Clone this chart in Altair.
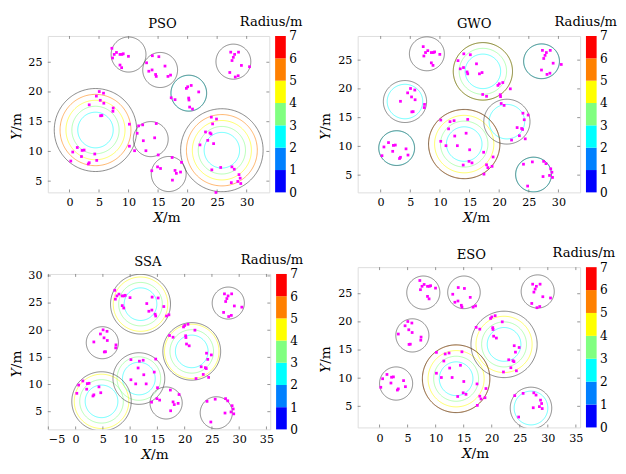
import altair as alt
import numpy as np
import pandas as pd

# ---------------- data ----------------
PX = [7.18, 7.57, 7.95, 8.55, 8.88, 9.10, 9.98, 8.55, 8.83, 7.29,
      13.05, 14.03, 15.13, 13.43, 13.98, 14.58, 14.69, 16.17, 16.67, 17.11,
      20.01, 20.61, 19.79, 21.88, 20.18, 20.23, 20.34, 20.83, 17.22, 17.87,
      27.30, 27.96, 28.62, 27.74, 27.52, 29.11, 30.48, 27.14, 28.07, 28.56,
      4.55, 5.04, 5.76, 5.21, 5.81, 3.34, 7.40, 7.35, 5.26, 5.48,
      1.32, 0.55, 2.14, 2.47, 2.03, 4.28, 0.22, 3.34, 3.18, 4.61,
      10.14, 11.46, 12.39, 11.70, 14.69, 12.50, 14.42, 10.14, 11.02, 12.94, 15.02,
      17.38, 13.93, 14.91, 15.41, 18.97, 17.87, 18.80, 18.09, 17.43,
      24.01, 24.89, 24.23, 23.03, 23.79, 23.96, 22.09, 23.41, 24.40,
      24.10, 25.60, 27.50, 27.90, 28.70, 28.90, 28.50, 29.00, 27.40, 24.80]
PY = [27.35, 26.32, 26.65, 26.32, 26.32, 26.43, 26.00, 24.53, 24.09, 25.72,
      24.91, 26.10, 25.94, 23.49, 23.71, 22.95, 22.62, 24.36, 22.62, 22.84,
      20.88, 21.10, 20.61, 20.01, 18.98, 18.65, 17.46, 17.13, 19.03, 18.71,
      26.70, 26.32, 26.70, 25.83, 25.29, 24.47, 24.25, 23.28, 22.52, 22.73,
      19.31, 20.07, 19.80, 18.60, 18.11, 17.84, 17.30, 16.75, 16.00, 16.04,
      10.66, 9.90, 10.17, 10.23, 9.14, 9.57, 8.38, 8.10, 7.89, 8.49,
      14.58, 13.05, 14.47, 14.30, 14.69, 11.80, 12.29, 10.88, 10.12, 10.12, 9.41,
      8.98, 6.75, 7.40, 7.13, 8.16, 6.80, 6.53, 6.31, 5.17,
      15.77, 15.45, 14.63, 13.27, 13.11, 12.94, 11.10, 11.86, 11.31,
      6.90, 7.30, 7.40, 7.00, 6.10, 5.50, 4.95, 4.60, 4.75, 3.10]

PANELS = ["PSO", "GWO", "SSA", "ESO"]

# circle centres and radii (m) per algorithm
CX = {"PSO": [10.0, 15.35, 20.2, 27.75, 4.4, 13.76, 16.8, 25.8],
      "GWO": [7.8, 17.25, 27.15, 4.1, 2.7, 14.1, 21.3, 25.8],
      "SSA": [11.9, 28.0, 4.9, 21.3, 11.6, 4.75, 16.6, 25.8],
      "ESO": [7.8, 15.05, 28.2, 5.85, 2.95, 13.65, 22.2, 27.0]}
CY = {"PSO": [26.3, 23.7, 19.8, 25.1, 13.6, 12.07, 6.2, 10.2],
      "GWO": [26.1, 23.05, 24.8, 17.8, 9.7, 10.4, 14.3, 5.1],
      "SSA": [24.8, 25.0, 17.7, 16.1, 11.1, 6.9, 6.6, 4.8],
      "ESO": [25.2, 25.25, 25.4, 17.6, 9.05, 9.9, 16.0, 4.7]}
CR = {"PSO": [2.95, 2.95, 3.03, 2.95, 6.98, 2.95, 2.95, 6.98],
      "GWO": [2.95, 5.0, 3.03, 3.65, 3.03, 6.03, 3.9, 3.03],
      "SSA": [5.5, 2.95, 2.95, 5.3, 4.75, 5.45, 2.95, 2.95],
      "ESO": [2.95, 2.9, 2.95, 2.95, 2.95, 6.02, 5.9, 3.7]}

XDOM = {"PSO": [-3.67, 33.83], "GWO": [-3.88, 33.66], "SSA": [-5.1, 35.7], "ESO": [-3.9, 35.76]}
YDOM = {"PSO": [3.11, 29.42], "GWO": [2.0, 29.2], "SSA": [1.74, 30.36], "ESO": [1.25, 29.72]}
XTICKS = {"PSO": [0, 5, 10, 15, 20, 25, 30], "GWO": [0, 5, 10, 15, 20, 25, 30],
          "SSA": [-5, 0, 5, 10, 15, 20, 25, 30, 35], "ESO": [0, 5, 10, 15, 20, 25, 30, 35]}
YTICKS = {"PSO": [5, 10, 15, 20, 25], "GWO": [5, 10, 15, 20, 25],
          "SSA": [5, 10, 15, 20, 25, 30], "ESO": [5, 10, 15, 20, 25]}

# colour bar levels (Radius/m) and their colours
CB_LEVELS = [0, 1, 2, 3, 4, 5, 6, 7]
JET = ["#0000ff", "#0080ff", "#00ffff", "#80ff80", "#ffff00", "#ff8000", "#ff0000"]

# ---------------- layout ----------------
SIZE = {"PSO": (228, 161), "GWO": (229, 161), "SSA": (229, 160), "ESO": (229, 165)}
TITLE_X = {"PSO": 118, "GWO": 120, "SSA": 103, "ESO": 117}
XLAB_X = {"PSO": 118.7, "GWO": 118.3, "SSA": 106.3, "ESO": 117.3}
RAD_X = {"PSO": 34, "GWO": 38, "SSA": 34, "ESO": 36}
FONT = "DejaVu Serif"
GRAY = "#444444"
ONE = pd.DataFrame({"a": [0]})


def ring_frames(name):
    t = np.linspace(0, 2 * np.pi, 181)
    col_rows, gray_rows = [], []
    for i, (cx, cy, r) in enumerate(zip(CX[name], CY[name], CR[name])):
        for k in range(3, int(np.floor(r)) + 1):
            for j, a in enumerate(t):
                col_rows.append({"key": f"{i}-{k}", "x": cx + k * np.cos(a),
                                 "y": cy + k * np.sin(a), "o": j, "c": JET[k - 1]})
        for j, a in enumerate(t):
            gray_rows.append({"key": f"{i}", "x": cx + r * np.cos(a),
                              "y": cy + r * np.sin(a), "o": j})
    return pd.DataFrame(col_rows), pd.DataFrame(gray_rows)


def text(txt, x, y, **kw):
    return alt.Chart(ONE).mark_text(text=txt, font=FONT, color="black", **kw).encode(
        x=alt.value(x), y=alt.value(y))


def panel(name):
    w, h = SIZE[name]
    xs = alt.Scale(domain=XDOM[name], nice=False, zero=False)
    ys = alt.Scale(domain=YDOM[name], nice=False, zero=False)
    xaxis = alt.Axis(values=XTICKS[name], title=None, grid=False, domain=False, ticks=False,
                     labelPadding=5, labelFont=FONT, labelFontSize=11.5, labelColor="black")
    yaxis = alt.Axis(values=YTICKS[name], title=None, grid=False, domain=False, ticks=False,
                     labelPadding=6, labelFont=FONT, labelFontSize=11.5, labelColor="black")
    col_df, gray_df = ring_frames(name)
    X = lambda f: alt.X(f, scale=xs, axis=xaxis)
    Y = lambda f: alt.Y(f, scale=ys, axis=yaxis)

    layers = []
    if len(col_df):
        layers.append(alt.Chart(col_df).mark_line(strokeWidth=0.9, clip=True, opacity=0.65).encode(
            x=X("x:Q"), y=Y("y:Q"), detail="key:N", order="o:Q",
            color=alt.Color("c:N", scale=None)))
    layers.append(alt.Chart(gray_df).mark_line(strokeWidth=0.8, clip=True, color=GRAY, opacity=0.8).encode(
        x=X("x:Q"), y=Y("y:Q"), detail="key:N", order="o:Q"))
    pts = pd.DataFrame({"x": PX, "y": PY})
    layers.append(alt.Chart(pts).mark_square(size=8, color="#ff00ff", opacity=1).encode(
        x=X("x:Q"), y=Y("y:Q")))
    xt = pd.DataFrame({"v": XTICKS[name]})
    yt = pd.DataFrame({"v": YTICKS[name]})
    tk = dict(color="#777777", strokeWidth=0.8)
    layers.append(alt.Chart(xt).mark_rule(**tk).encode(x=X("v:Q"), y=alt.value(h), y2=alt.value(h - 3)))
    layers.append(alt.Chart(xt).mark_rule(**tk).encode(x=X("v:Q"), y=alt.value(0), y2=alt.value(3)))
    layers.append(alt.Chart(yt).mark_rule(**tk).encode(y=Y("v:Q"), x=alt.value(0), x2=alt.value(3)))
    layers.append(alt.Chart(yt).mark_rule(**tk).encode(y=Y("v:Q"), x=alt.value(w), x2=alt.value(w - 3)))
    # texts
    layers.append(text(name, TITLE_X[name], -12, fontSize=13.5, align="center", baseline="middle"))
    layers.append(text("Radius/m", w + RAD_X[name], -14, fontSize=13.5, align="right", baseline="middle"))
    xs_ = XLAB_X[name]
    layers.append(text("X", xs_, h + 27, fontSize=14, fontStyle="italic", align="right", baseline="middle"))
    layers.append(text("/m", xs_, h + 27, fontSize=14, align="left", baseline="middle"))
    ysplit = h / 2 + 17
    layers.append(text("Y", -32, ysplit, fontSize=14, fontStyle="italic", angle=270, align="right", baseline="middle"))
    layers.append(text("/m", -32, ysplit, fontSize=14, angle=270, align="left", baseline="middle"))

    data_layer = alt.layer(*layers)

    cb = pd.DataFrame({"lo": CB_LEVELS[:-1], "hi": CB_LEVELS[1:], "c": JET})
    cbar = alt.Chart(cb).mark_rect().encode(
        x=alt.value(w + 6), x2=alt.value(w + 17),
        y=alt.Y("lo:Q", scale=alt.Scale(domain=[0, 7], nice=False, zero=False),
                axis=alt.Axis(orient="right", values=CB_LEVELS, offset=17, title=None, grid=False,
                              domain=False, ticks=False, labelPadding=3, labelFont=FONT,
                              labelFontSize=12.5, labelColor="black")),
        y2="hi:Q",
        color=alt.Color("c:N", scale=None))
    return alt.layer(data_layer, cbar).resolve_scale(y="independent").properties(width=w, height=h)


col1 = alt.vconcat(panel("PSO"), panel("SSA"), spacing=27)
col2 = alt.vconcat(panel("GWO"), panel("ESO"), spacing=20)
chart = alt.hconcat(col1, col2, spacing=15).properties(
    padding={"left": 1, "top": 0, "right": 0, "bottom": 0}
).configure_view(stroke="#999999", strokeWidth=0.9).configure(background="white")

chart.save("out.html", embed_options={"renderer": "svg", "actions": False})
